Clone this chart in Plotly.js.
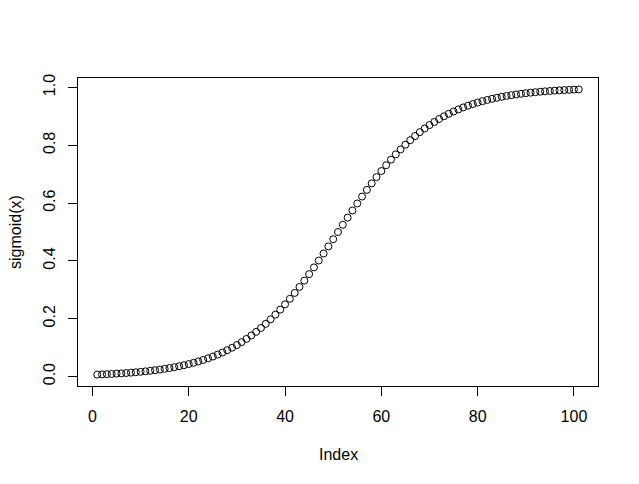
<!DOCTYPE html>
<html>
<head>
<meta charset="utf-8">
<script src="https://cdn.plot.ly/plotly-3.0.1.min.js"></script>
<style>html,body{margin:0;padding:0;background:#fff;}#plot{width:639px;height:484px;}</style>
</head>
<body>
<div id="plot"></div>
<script>
// sigmoid(x) values (x from -5 to 5 by 0.1), plotted against their index
const sigmoidValues = [
  0.0067, 0.0074, 0.0082, 0.0090, 0.0100, 0.0110, 0.0121, 0.0134, 0.0148, 0.0163,
  0.0180, 0.0198, 0.0219, 0.0241, 0.0266, 0.0293, 0.0323, 0.0356, 0.0392, 0.0431,
  0.0474, 0.0522, 0.0573, 0.0630, 0.0691, 0.0759, 0.0832, 0.0911, 0.0998, 0.1091,
  0.1192, 0.1301, 0.1419, 0.1545, 0.1680, 0.1824, 0.1978, 0.2142, 0.2315, 0.2497,
  0.2689, 0.2891, 0.3100, 0.3318, 0.3543, 0.3775, 0.4013, 0.4256, 0.4502, 0.4750,
  0.5000,
  0.5250, 0.5498, 0.5744, 0.5987, 0.6225, 0.6457, 0.6682, 0.6900, 0.7109, 0.7311,
  0.7503, 0.7685, 0.7858, 0.8022, 0.8176, 0.8320, 0.8455, 0.8581, 0.8699, 0.8808,
  0.8909, 0.9002, 0.9089, 0.9168, 0.9241, 0.9309, 0.9370, 0.9427, 0.9478, 0.9526,
  0.9569, 0.9608, 0.9644, 0.9677, 0.9707, 0.9734, 0.9759, 0.9781, 0.9802, 0.9820,
  0.9837, 0.9852, 0.9866, 0.9879, 0.9890, 0.9900, 0.9910, 0.9918, 0.9926, 0.9933
];
const xTickVals = [0, 20, 40, 60, 80, 100];
const yTickVals = [0.0, 0.2, 0.4, 0.6, 0.8, 1.0];
const yTickText = ["0.0", "0.2", "0.4", "0.6", "0.8", "1.0"];
const xTitle = "Index";
const yTitle = "sigmoid(x)";

const indexValues = sigmoidValues.map((_, i) => i + 1);

// R-style 4% range extension
function extend(arr) {
  const mn = Math.min(...arr), mx = Math.max(...arr), d = (mx - mn) * 0.04;
  return [mn - d, mx + d];
}

const font = {family: "Liberation Sans, Arial, sans-serif", size: 16, color: "#000"};

const trace = {
  x: indexValues,
  y: sigmoidValues,
  type: "scatter",
  mode: "markers",
  marker: {symbol: "circle-open", size: 7, color: "#000", line: {width: 1, color: "#000"}},
  hoverinfo: "none"
};

const axisCommon = {
  showgrid: false, zeroline: false,
  showline: true, mirror: true, linecolor: "#000", linewidth: 1,
  ticks: "outside", ticklen: 9, tickwidth: 1, tickcolor: "#000",
  tickfont: font, fixedrange: true
};

const layout = {
  width: 639, height: 484,
  margin: {l: 78, r: 41, t: 78, b: 98, pad: 0},
  paper_bgcolor: "#fff", plot_bgcolor: "#fff",
  showlegend: false,
  font: font,
  xaxis: Object.assign({}, axisCommon, {
    range: extend(indexValues), tickvals: xTickVals, ticktext: xTickVals.map(String),
    ticklabelstandoff: 7
  }),
  yaxis: Object.assign({}, axisCommon, {
    range: extend(sigmoidValues), tickvals: yTickVals, ticktext: yTickText,
    tickangle: -90, ticklabelstandoff: 7
  }),
  annotations: [
    {text: xTitle, xref: "paper", yref: "paper", x: 0.5, y: 0, yshift: -68,
     showarrow: false, font: font, xanchor: "center", yanchor: "middle"},
    {text: yTitle, xref: "paper", yref: "paper", x: 0, y: 0.5, xshift: -63,
     showarrow: false, font: font, textangle: -90, xanchor: "center", yanchor: "middle"}
  ]
};

Plotly.newPlot("plot", [trace], layout, {displayModeBar: false, staticPlot: true});
</script>
</body>
</html>
